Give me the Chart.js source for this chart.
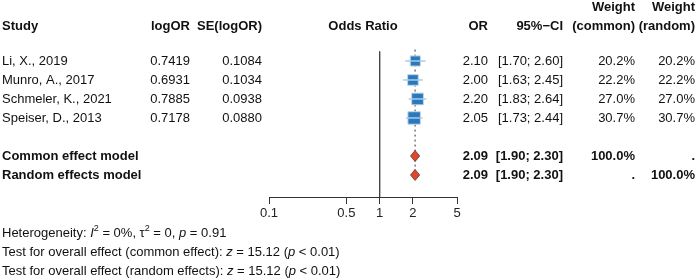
<!DOCTYPE html>
<html lang="en">
<head>
<meta charset="UTF-8">
<title>Forest plot</title>
<style>
  body { margin: 0; background: #fff; }
</style>
</head>
<body>
<canvas id="forest" width="700" height="280"></canvas>
<script src="https://cdn.jsdelivr.net/npm/chart.js"></script>
<script>
    // study level data
    const studies = ['Li, X., 2019', 'Munro, A., 2017', 'Schmeler, K., 2021', 'Speiser, D., 2013'];
    const logOR = [0.7419, 0.6931, 0.7885, 0.7178];
    const seLogOR = [0.1084, 0.1034, 0.0938, 0.0880];
    const oddsRatio = [2.10, 2.00, 2.20, 2.05];
    const ciLower = [1.70, 1.63, 1.83, 1.73];
    const ciUpper = [2.60, 2.45, 2.64, 2.44];
    const weightCommon = [20.2, 22.2, 27.0, 30.7];
    const weightRandom = [20.2, 22.2, 27.0, 30.7];

    // pooled estimates
    const pooledLabels = ['Common effect model', 'Random effects model'];
    const pooledOR = [2.09, 2.09];
    const pooledLower = [1.90, 1.90];
    const pooledUpper = [2.30, 2.30];
    const pooledWeightCommon = [100.0, null];
    const pooledWeightRandom = [null, 100.0];

    const xTicks = [0.1, 0.5, 1, 2, 5];

    const FONT = '"Liberation Sans", Arial, Helvetica, sans-serif';
    const POOLED_ROW0 = 5;   // first pooled row (row 4 stays empty)
    const AXIS_ROW = 7.16;

    const ciSets = studies.map((s, i) => ({
        type: 'line',
        data: [{x: ciLower[i], y: i}, {x: ciUpper[i], y: i}],
        borderColor: '#a8cbea',
        borderWidth: 1.5,
        pointRadius: 0,
        order: 1
    }));

    const squares = {
        type: 'scatter',
        data: studies.map((s, i) => ({x: oddsRatio[i], y: i})),
        pointStyle: 'rect',
        pointRadius: weightCommon.map(w => 1.6 * Math.sqrt(w)),
        backgroundColor: '#2a79bd',
        borderColor: '#c9d6e3',
        borderWidth: 1,
        order: 2
    };

    const pooledLine = {
        type: 'line',
        data: [{x: pooledOR[0], y: -0.6}, {x: pooledOR[0], y: POOLED_ROW0 + 1}],
        borderColor: '#333',
        borderWidth: 1,
        borderDash: [2, 3],
        pointRadius: 0,
        order: 3
    };

    const nullLine = {
        type: 'line',
        data: [{x: 1, y: -0.5}, {x: 1, y: AXIS_ROW}],
        borderColor: '#444',
        borderWidth: 1,
        pointRadius: 0,
        order: 4
    };

    function txt(ctx, s, x, y, align, bold) {
        ctx.font = (bold ? 'bold ' : '') + '13px ' + FONT;
        ctx.textAlign = align;
        ctx.fillText(s, x, y);
    }

    // draws a line of mixed normal / italic / superscript pieces
    function runs(ctx, parts, x, y) {
        ctx.textAlign = 'left';
        parts.forEach(p => {
            let dy = 0;
            if (p[1] === 'sup') { ctx.font = '9px ' + FONT; dy = -5; }
            else if (p[1] === 'i') ctx.font = 'italic 13px ' + FONT;
            else ctx.font = '13px ' + FONT;
            ctx.fillText(p[0], x, y + dy);
            x += ctx.measureText(p[0]).width;
        });
    }

    const forestPlugin = {
        id: 'forest',
        afterDatasetsDraw(chart) {
            const ctx = chart.ctx;
            const xs = chart.scales.x, ys = chart.scales.y;
            ctx.save();
            pooledOR.forEach((v, k) => {
                const y = ys.getPixelForValue(POOLED_ROW0 + k);
                ctx.beginPath();
                ctx.moveTo(xs.getPixelForValue(pooledLower[k]), y);
                ctx.lineTo(xs.getPixelForValue(v), y - 5.5);
                ctx.lineTo(xs.getPixelForValue(pooledUpper[k]), y);
                ctx.lineTo(xs.getPixelForValue(v), y + 5.5);
                ctx.closePath();
                ctx.fillStyle = '#e2452b';
                ctx.fill();
                ctx.strokeStyle = '#5a3a33';
                ctx.lineWidth = 0.8;
                ctx.stroke();
            });
            ctx.restore();
        },
        afterDraw(chart) {
            const ctx = chart.ctx;
            const ys = chart.scales.y;
            const area = chart.chartArea;
            const col = {study: 2, logOR: 190, se: 262, or: 488, ci: 563, wc: 635, wr: 695};
            ctx.save();
            ctx.fillStyle = '#111';
            ctx.textBaseline = 'middle';

            let y = ys.getPixelForValue(-2.84);
            txt(ctx, 'Weight', col.wc, y, 'right', true);
            txt(ctx, 'Weight', col.wr, y, 'right', true);
            y = ys.getPixelForValue(-1.84);
            txt(ctx, 'Study', col.study, y, 'left', true);
            txt(ctx, 'logOR', col.logOR, y, 'right', true);
            txt(ctx, 'SE(logOR)', col.se, y, 'right', true);
            txt(ctx, 'Odds Ratio', (area.left + area.right) / 2, y, 'center', true);
            txt(ctx, 'OR', col.or, y, 'right', true);
            txt(ctx, '95%\u2212CI', col.ci, y, 'right', true);
            txt(ctx, '(common)', col.wc, y, 'right', true);
            txt(ctx, '(random)', col.wr, y, 'right', true);

            studies.forEach((s, i) => {
                const yy = ys.getPixelForValue(i);
                txt(ctx, s, col.study, yy, 'left', false);
                txt(ctx, logOR[i].toFixed(4), col.logOR, yy, 'right', false);
                txt(ctx, seLogOR[i].toFixed(4), col.se, yy, 'right', false);
                txt(ctx, oddsRatio[i].toFixed(2), col.or, yy, 'right', false);
                txt(ctx, '[' + ciLower[i].toFixed(2) + '; ' + ciUpper[i].toFixed(2) + ']', col.ci, yy, 'right', false);
                txt(ctx, weightCommon[i].toFixed(1) + '%', col.wc, yy, 'right', false);
                txt(ctx, weightRandom[i].toFixed(1) + '%', col.wr, yy, 'right', false);
            });

            pooledLabels.forEach((s, k) => {
                const yy = ys.getPixelForValue(POOLED_ROW0 + k);
                txt(ctx, s, col.study, yy, 'left', true);
                txt(ctx, pooledOR[k].toFixed(2), col.or, yy, 'right', true);
                txt(ctx, '[' + pooledLower[k].toFixed(2) + '; ' + pooledUpper[k].toFixed(2) + ']', col.ci, yy, 'right', true);
                const wc = pooledWeightCommon[k], wr = pooledWeightRandom[k];
                txt(ctx, wc === null ? '.' : wc.toFixed(1) + '%', col.wc, yy, 'right', true);
                txt(ctx, wr === null ? '.' : wr.toFixed(1) + '%', col.wr, yy, 'right', true);
            });

            runs(ctx, [['Heterogeneity: '], ['I', 'i'], ['2', 'sup'], [' = 0%, '], ['\u03c4'], ['2', 'sup'],
                [' = 0, '], ['p', 'i'], [' = 0.91']], col.study, ys.getPixelForValue(9.1));
            runs(ctx, [['Test for overall effect (common effect): '], ['z', 'i'], [' = 15.12 ('], ['p', 'i'], [' < 0.01)']],
                col.study, ys.getPixelForValue(10.1));
            runs(ctx, [['Test for overall effect (random effects): '], ['z', 'i'], [' = 15.12 ('], ['p', 'i'], [' < 0.01)']],
                col.study, ys.getPixelForValue(11.1));
            ctx.restore();
        }
    };

    new Chart(document.getElementById('forest'), {
        data: {
            datasets: [...ciSets, squares, pooledLine, nullLine]
        },
        options: {
            responsive: false,
            animation: false,
            layout: {autoPadding: false, padding: {left: 269, right: 243, top: 0, bottom: 0}},
            plugins: {legend: {display: false}, tooltip: {enabled: false}},
            scales: {
                x: {
                    type: 'logarithmic',
                    min: 0.1,
                    max: 5,
                    afterBuildTicks(scale) { scale.ticks = xTicks.map(v => ({value: v})); },
                    afterFit(scale) { scale.height = 280 - 197; },
                    ticks: {
                        autoSkip: false,
                        maxRotation: 0,
                        padding: 2,
                        color: '#222',
                        font: {family: FONT, size: 13},
                        callback: v => String(v)
                    },
                    grid: {drawOnChartArea: false, tickLength: 7, color: '#333'},
                    border: {color: '#333'}
                },
                y: {
                    type: 'linear',
                    reverse: true,
                    min: -3.21,
                    max: AXIS_ROW,
                    display: false
                }
            }
        },
        plugins: [forestPlugin]
    });
</script>
</body>
</html>
